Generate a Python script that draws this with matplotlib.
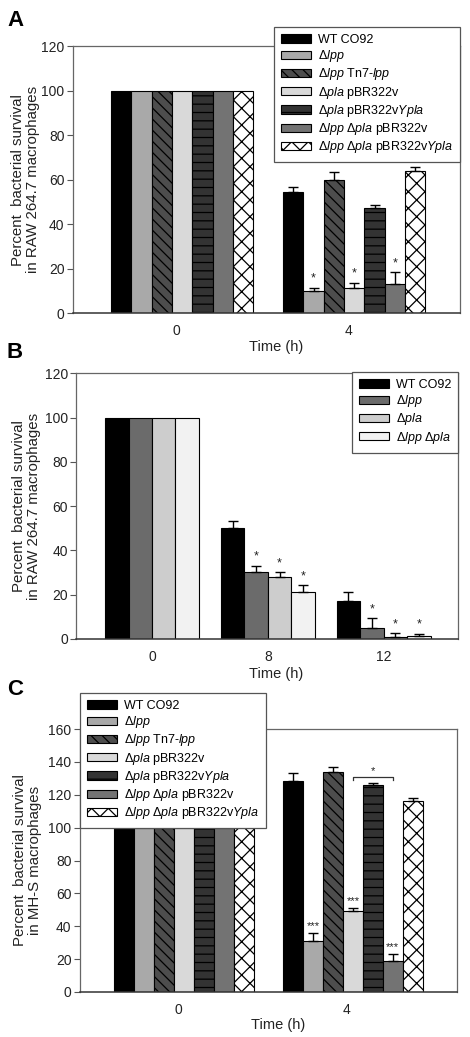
import numpy as np
import matplotlib
matplotlib.use('Agg')
import matplotlib.pyplot as plt

plt.rcParams['font.family'] = ['Liberation Sans', 'DejaVu Sans']
plt.rcParams['mathtext.fontset'] = 'custom'
plt.rcParams['mathtext.rm'] = 'Liberation Sans'
plt.rcParams['mathtext.it'] = 'Liberation Sans:italic'
plt.rcParams['mathtext.bf'] = 'Liberation Sans:bold'
plt.rcParams['hatch.linewidth'] = 0.9

# ---- data ----
labels7 = ['WT CO92',
           r'$\Delta\mathit{lpp}$',
           r'$\Delta\mathit{lpp}$ Tn7-$\mathit{lpp}$',
           r'$\Delta\mathit{pla}$ pBR322v',
           r'$\Delta\mathit{pla}$ pBR322v$\mathit{Ypla}$',
           r'$\Delta\mathit{lpp}$ $\Delta\mathit{pla}$ pBR322v',
           r'$\Delta\mathit{lpp}$ $\Delta\mathit{pla}$ pBR322v$\mathit{Ypla}$']
labels4 = ['WT CO92',
           r'$\Delta\mathit{lpp}$',
           r'$\Delta\mathit{pla}$',
           r'$\Delta\mathit{lpp}$ $\Delta\mathit{pla}$']

times_a = ['0', '4']
vals_a = [[100, 54.3], [100, 10.0], [100, 59.8], [100, 11.2], [100, 47.4], [100, 13.3], [100, 64.0]]
errs_a = [[0, 2.5], [0, 1.5], [0, 3.4], [0, 2.5], [0, 1.0], [0, 5.0], [0, 1.8]]
stars_a = [['', ''], ['', '*'], ['', ''], ['', '*'], ['', ''], ['', '*'], ['', '']]

times_b = ['0', '8', '12']
vals_b = [[100, 50.3, 17.2], [100, 30.1, 5.1], [100, 28.0, 0.6], [100, 21.1, 1.4]]
errs_b = [[0, 2.9, 3.9], [0, 3.0, 4.1], [0, 2.1, 2.1], [0, 3.0, 0.9]]
stars_b = [['', '', ''], ['', '*', '*'], ['', '*', '*'], ['', '*', '*']]

times_c = ['0', '4']
vals_c = [[100, 128.3], [100, 30.9], [100, 133.8], [100, 49.1], [100, 125.7], [100, 19.1], [100, 116.5]]
errs_c = [[0, 4.7], [0, 4.8], [0, 2.8], [0, 1.9], [0, 1.2], [0, 3.8], [0, 1.5]]
stars_c = [['', ''], ['', '***'], ['', ''], ['', '***'], ['', ''], ['', '***'], ['', '']]
bracket_c = (3, 5, 131)  # bar index from, to, height ; group "4"

colors7 = ['#000000', '#a9a9a9', '#4d4d4d', '#d9d9d9', '#333333', '#737373', '#ffffff']
hatch7 = [None, None, '\\\\\\', None, '--', None, 'xx']
colors4 = ['#000000', '#6b6b6b', '#cdcdcd', '#f2f2f2']
hatch4 = [None, None, None, None]

fig = plt.figure(figsize=(4.7, 10.37), dpi=100)


def panel(rect, times, vals, errs, stars, labels, colors, hatches, width,
          xlim, ylim, yticks, ylabel, ylab_x, xlab_y, star_size=9, star_off=2, shift=0.0):
    ax = fig.add_axes(rect)
    x = np.arange(len(times))
    n = len(vals)
    for i in range(n):
        xi = x + shift + (i - (n - 1) / 2) * width
        v = np.array(vals[i])
        e = np.array(errs[i])
        ax.bar(xi, v, width, color=colors[i], edgecolor='black', linewidth=0.8,
               hatch=hatches[i], label=labels[i], zorder=2)
        m = e > 0
        if m.any():
            ax.errorbar(xi[m], v[m], yerr=[np.zeros(m.sum()), e[m]], fmt='none',
                        ecolor='black', elinewidth=1, capsize=3.3, capthick=1, zorder=3)
        for j in range(len(times)):
            if stars[i][j]:
                ax.annotate(stars[i][j], (xi[j], v[j] + e[j]), xytext=(0, star_off),
                            textcoords='offset points', ha='center', va='bottom',
                            fontsize=star_size, color='#222222')
    ax.set_xlim(*xlim)
    ax.set_ylim(*ylim)
    ax.set_yticks(yticks)
    ax.set_xticks(x)
    ax.set_xticklabels(times)
    ax.tick_params(axis='x', length=0, pad=8, labelsize=10, colors='#222222')
    ax.tick_params(axis='y', length=4, width=0.8, pad=2, labelsize=10,
                   colors='#222222', color='#555555')
    for s in ax.spines.values():
        s.set_color('#666666')
        s.set_linewidth(0.9)
    ax.spines['bottom'].set_color('#333333')
    ax.spines['bottom'].set_linewidth(1.1)
    ax.set_ylabel(ylabel, fontsize=10.8, color='#222222', linespacing=1.1)
    ax.yaxis.set_label_coords(ylab_x, 0.5)
    ax.set_xlabel('Time (h)', fontsize=10.5, color='#222222')
    ax.xaxis.set_label_coords(0.525, xlab_y)
    return ax, x


legend_kw = dict(fontsize=9, frameon=True, fancybox=False, edgecolor='#555555',
                 handlelength=2.4, handleheight=0.65, handletextpad=0.55,
                 labelspacing=0.18, borderpad=0.55, borderaxespad=0,
                 bbox_transform=fig.transFigure, framealpha=1)

ylab_raw = 'Percent  bacterial survival\nin RAW 264.7 macrophages'
ylab_mhs = 'Percent  bacterial survival\nin MH-S macrophages'

# A
axA, xA = panel([0.155, 0.698, 0.824, 0.2576], times_a, vals_a, errs_a, stars_a,
                labels7, colors7, hatch7, 0.118, (-0.6, 1.65), (0, 120),
                range(0, 121, 20), ylab_raw, -0.085, -0.10, shift=0.035)
legA = axA.legend(loc='upper right', bbox_to_anchor=(460 / 470, 1 - 27 / 1037), **legend_kw)
legA.get_frame().set_linewidth(0.9)
legA.set_zorder(5)

# B
axB, xB = panel([0.162, 0.384, 0.812, 0.256], times_b, vals_b, errs_b, stars_b,
                labels4, colors4, hatch4, 0.2025, (-0.655, 2.64), (0, 120),
                range(0, 121, 20), ylab_raw, -0.092, -0.105)
legB = axB.legend(loc='upper right', bbox_to_anchor=(458 / 470, 1 - 372 / 1037), **legend_kw)
legB.get_frame().set_linewidth(0.9)

# C
shift_c = 0.035
axC, xC = panel([0.170, 0.0434, 0.802, 0.2536], times_c, vals_c, errs_c, stars_c,
                labels7, colors7, hatch7, 0.118, (-0.58, 1.65), (0, 160),
                range(0, 161, 20), ylab_mhs, -0.1, -0.099, star_size=8, star_off=1.5,
                shift=shift_c)
legC = axC.legend(loc='upper left', bbox_to_anchor=(80 / 470, 1 - 693 / 1037), **legend_kw)
legC.get_frame().set_linewidth(0.9)
legC.set_zorder(5)

# bracket in C
i0, i1, by = bracket_c
n7 = len(vals_c)
bx0 = xC[1] + shift_c + (i0 - (n7 - 1) / 2) * 0.118
bx1 = xC[1] + shift_c + (i1 - (n7 - 1) / 2) * 0.118
axC.plot([bx0, bx0, bx1, bx1], [by - 2, by, by, by - 2], color='#333333', lw=0.9, zorder=4)
axC.text((bx0 + bx1) / 2, by + 0.5, '*', ha='center', va='bottom', fontsize=8, color='#222222')

# panel letters
for lab, yy in [('A', 1 - 10 / 1037), ('B', 1 - 342 / 1037), ('C', 1 - 679 / 1037)]:
    fig.text(7 / 470, yy, lab, fontsize=16, fontweight='bold', va='top', ha='left')

fig.savefig('out.png', dpi=100)
